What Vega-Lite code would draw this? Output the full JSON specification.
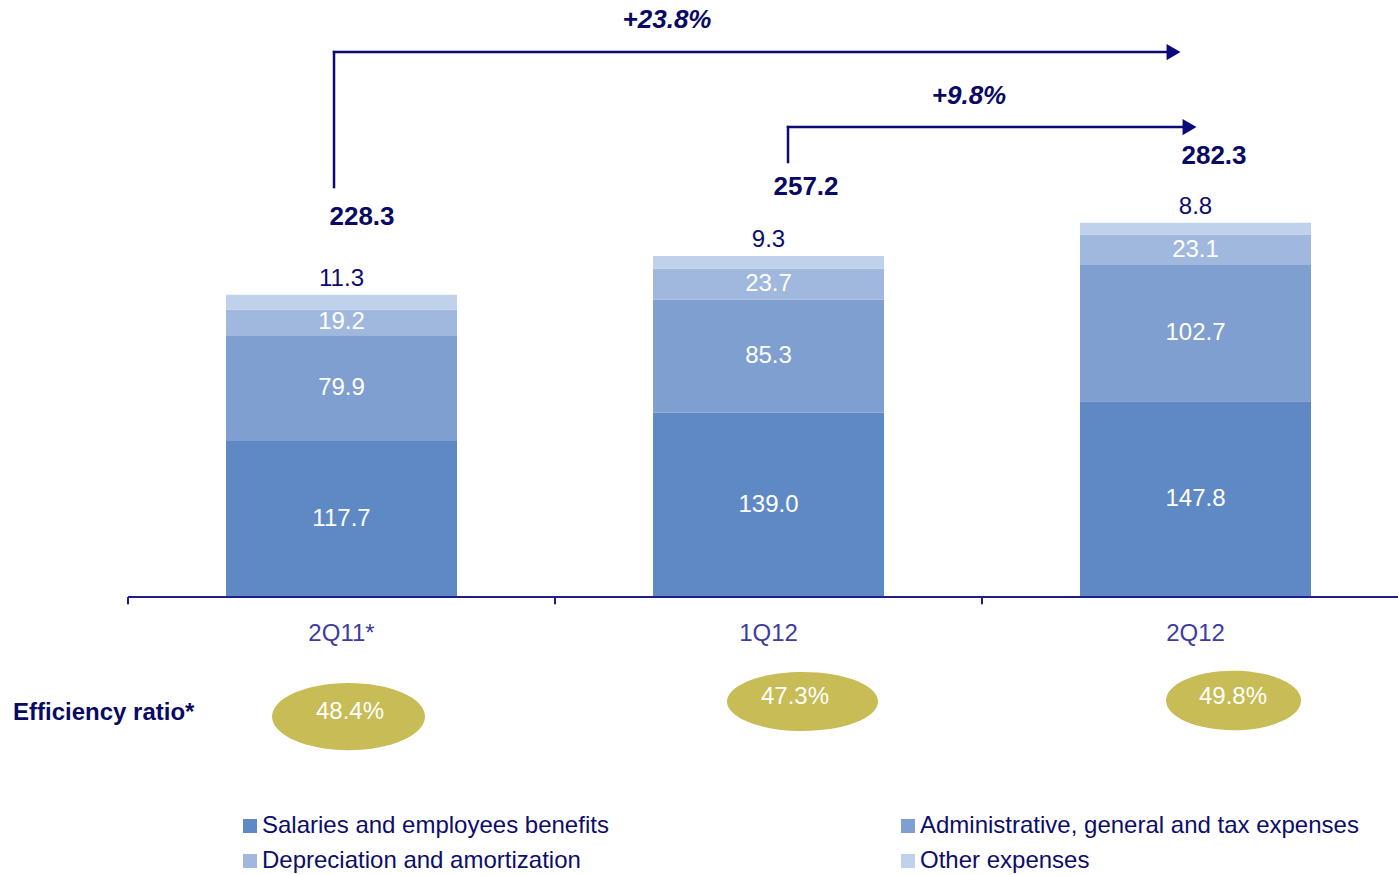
{
  "$schema": "https://vega.github.io/schema/vega-lite/v6.json",
  "width": 1398,
  "height": 875,
  "autosize": {"type": "none"},
  "padding": 0,
  "background": "white",
  "config": {
    "view": {"stroke": null},
    "axis": {"disable": true},
    "font": "Liberation Sans",
    "text": {"font": "Liberation Sans"}
  },
  "datasets": {
    "costs": [
      {"i": 0, "q": "2Q11*", "cat": "Salaries and employees benefits", "o": 1, "v": 117.7},
      {"i": 0, "q": "2Q11*", "cat": "Administrative, general and tax expenses", "o": 2, "v": 79.9},
      {"i": 0, "q": "2Q11*", "cat": "Depreciation and amortization", "o": 3, "v": 19.2},
      {"i": 0, "q": "2Q11*", "cat": "Other expenses", "o": 4, "v": 11.3},
      {"i": 1, "q": "1Q12", "cat": "Salaries and employees benefits", "o": 1, "v": 139.0},
      {"i": 1, "q": "1Q12", "cat": "Administrative, general and tax expenses", "o": 2, "v": 85.3},
      {"i": 1, "q": "1Q12", "cat": "Depreciation and amortization", "o": 3, "v": 23.7},
      {"i": 1, "q": "1Q12", "cat": "Other expenses", "o": 4, "v": 9.3},
      {"i": 2, "q": "2Q12", "cat": "Salaries and employees benefits", "o": 1, "v": 147.8},
      {"i": 2, "q": "2Q12", "cat": "Administrative, general and tax expenses", "o": 2, "v": 102.7},
      {"i": 2, "q": "2Q12", "cat": "Depreciation and amortization", "o": 3, "v": 23.1},
      {"i": 2, "q": "2Q12", "cat": "Other expenses", "o": 4, "v": 8.8}
    ],
    "quarters": [
      {"i": 0, "q": "2Q11*", "total": 228.3, "eff": "48.4%"},
      {"i": 1, "q": "1Q12", "total": 257.2, "eff": "47.3%"},
      {"i": 2, "q": "2Q12", "total": 282.3, "eff": "49.8%"}
    ],
    "growth": [
      {"from": 0, "to": 2, "label": "+23.8%"},
      {"from": 1, "to": 2, "label": "+9.8%"}
    ],
    "notes": [
      {"label": "Efficiency ratio*"}
    ]
  },
  "layer": [
    {
      "data": {"name": "costs"},
      "transform": [
        {"stack": "v", "groupby": ["i"], "sort": [{"field": "o", "order": "ascending"}], "as": ["v0", "v1"]}
      ],
      "mark": {"type": "bar", "width": 231},
      "encoding": {
        "x": {"field": "i", "type": "quantitative", "scale": {"domain": [-0.7998, 2.4742], "nice": false, "zero": false, "padding": 0}, "axis": null},
        "y": {"field": "v0", "type": "quantitative", "stack": null, "scale": {"domain": [-209.8, 450.6], "nice": false, "zero": false, "padding": 0}, "axis": null},
        "y2": {"field": "v1"},
        "color": {
          "field": "cat",
          "type": "nominal",
          "scale": {
            "domain": ["Salaries and employees benefits", "Administrative, general and tax expenses", "Depreciation and amortization", "Other expenses"],
            "range": ["#5F89C5", "#7F9FD0", "#A0B8DE", "#C0D1EC"]
          },
          "legend": {
            "title": null,
            "orient": "none",
            "legendX": 238,
            "legendY": 814,
            "direction": "horizontal",
            "columns": 2,
            "columnPadding": 287,
            "rowPadding": 11,
            "symbolType": "square",
            "symbolSize": 196,
            "symbolStrokeWidth": 0,
            "symbolOpacity": 1,
            "labelFont": "Liberation Sans",
            "labelFontSize": 24,
            "labelColor": "#0D0D6B",
            "labelLimit": 700,
            "labelOffset": 0,
            "padding": 0
          }
        }
      }
    },
    {
      "data": {"name": "costs"},
      "transform": [
        {"stack": "v", "groupby": ["i"], "sort": [{"field": "o", "order": "ascending"}], "as": ["v0", "v1"]},
        {"calculate": "(datum.v0 + datum.v1) / 2", "as": "mid"},
        {"filter": "datum.o < 4"}
      ],
      "mark": {"type": "text", "fontSize": 24, "color": "white", "baseline": "middle", "align": "center"},
      "encoding": {
        "x": {"field": "i", "type": "quantitative"},
        "y": {"field": "mid", "type": "quantitative", "stack": null},
        "text": {"field": "v", "type": "quantitative", "format": ".1f"}
      }
    },
    {
      "data": {"name": "costs"},
      "transform": [
        {"stack": "v", "groupby": ["i"], "sort": [{"field": "o", "order": "ascending"}], "as": ["v0", "v1"]},
        {"filter": "datum.o == 4"}
      ],
      "mark": {"type": "text", "fontSize": 24, "color": "#0D0D6B", "baseline": "middle", "align": "center", "dy": -16},
      "encoding": {
        "x": {"field": "i", "type": "quantitative"},
        "y": {"field": "v1", "type": "quantitative", "stack": null},
        "text": {"field": "v", "type": "quantitative", "format": ".1f"}
      }
    },
    {
      "data": {"name": "quarters"},
      "mark": {"type": "rule", "color": "#1F1F8A", "strokeWidth": 2, "xOffset": -213.5, "x2Offset": 213.5},
      "encoding": {
        "x": {"field": "i", "type": "quantitative"},
        "x2": {"field": "i"},
        "y": {"datum": 0}
      }
    },
    {
      "data": {"name": "quarters"},
      "mark": {"type": "rule", "color": "#1F1F8A", "strokeWidth": 2, "xOffset": -213.5},
      "encoding": {
        "x": {"field": "i", "type": "quantitative"},
        "y": {"datum": 0},
        "y2": {"datum": -5.5}
      }
    },
    {
      "data": {"name": "quarters"},
      "mark": {"type": "text", "fontSize": 24, "color": "#3C3CA0", "baseline": "middle", "align": "center"},
      "encoding": {
        "x": {"field": "i", "type": "quantitative"},
        "y": {"datum": -27.9},
        "text": {"field": "q", "type": "nominal"}
      }
    },
    {
      "data": {"name": "quarters"},
      "transform": [{"filter": "datum.i == 0"}],
      "layer": [
        {
          "mark": {"type": "text", "fontSize": 26, "fontWeight": "bold", "color": "#0A0A64", "baseline": "middle", "align": "center", "dx": 20.5, "dy": -77.5},
          "encoding": {
            "x": {"field": "i", "type": "quantitative"},
            "y": {"field": "total", "type": "quantitative"},
            "text": {"field": "total", "type": "quantitative", "format": ".1f"}
          }
        },
        {
          "mark": {"type": "point", "shape": "M -1 0 A 1 0.44 0 1 1 1 0 A 1 0.44 0 1 1 -1 0 Z", "size": 23409, "filled": true, "opacity": 1, "color": "#C8BC56", "strokeWidth": 0, "xOffset": 7},
          "encoding": {
            "x": {"field": "i", "type": "quantitative"},
            "y": {"datum": -90.2}
          }
        },
        {
          "mark": {"type": "text", "fontSize": 24, "color": "white", "baseline": "middle", "align": "center", "dx": 8.5},
          "encoding": {
            "x": {"field": "i", "type": "quantitative"},
            "y": {"datum": -86.8},
            "text": {"field": "eff", "type": "nominal"}
          }
        }
      ]
    },
    {
      "data": {"name": "quarters"},
      "transform": [{"filter": "datum.i == 1"}],
      "layer": [
        {
          "mark": {"type": "text", "fontSize": 26, "fontWeight": "bold", "color": "#0A0A64", "baseline": "middle", "align": "center", "dx": 37.5, "dy": -69},
          "encoding": {
            "x": {"field": "i", "type": "quantitative"},
            "y": {"field": "total", "type": "quantitative"},
            "text": {"field": "total", "type": "quantitative", "format": ".1f"}
          }
        },
        {
          "mark": {"type": "point", "shape": "M -1 0 A 1 0.39 0 1 1 1 0 A 1 0.39 0 1 1 -1 0 Z", "size": 22801, "filled": true, "opacity": 1, "color": "#C8BC56", "strokeWidth": 0, "xOffset": 34},
          "encoding": {
            "x": {"field": "i", "type": "quantitative"},
            "y": {"datum": -78.9}
          }
        },
        {
          "mark": {"type": "text", "fontSize": 24, "color": "white", "baseline": "middle", "align": "center", "dx": 26.5},
          "encoding": {
            "x": {"field": "i", "type": "quantitative"},
            "y": {"datum": -75.5},
            "text": {"field": "eff", "type": "nominal"}
          }
        }
      ]
    },
    {
      "data": {"name": "quarters"},
      "transform": [{"filter": "datum.i == 2"}],
      "layer": [
        {
          "mark": {"type": "text", "fontSize": 26, "fontWeight": "bold", "color": "#0A0A64", "baseline": "middle", "align": "center", "dx": 18.5, "dy": -67},
          "encoding": {
            "x": {"field": "i", "type": "quantitative"},
            "y": {"field": "total", "type": "quantitative"},
            "text": {"field": "total", "type": "quantitative", "format": ".1f"}
          }
        },
        {
          "mark": {"type": "point", "shape": "M -1 0 A 1 0.44 0 1 1 1 0 A 1 0.44 0 1 1 -1 0 Z", "size": 18225, "filled": true, "opacity": 1, "color": "#C8BC56", "strokeWidth": 0, "xOffset": 38},
          "encoding": {
            "x": {"field": "i", "type": "quantitative"},
            "y": {"datum": -78.1}
          }
        },
        {
          "mark": {"type": "text", "fontSize": 24, "color": "white", "baseline": "middle", "align": "center", "dx": 37.5},
          "encoding": {
            "x": {"field": "i", "type": "quantitative"},
            "y": {"datum": -75.5},
            "text": {"field": "eff", "type": "nominal"}
          }
        }
      ]
    },
    {
      "data": {"name": "notes"},
      "mark": {"type": "text", "fontSize": 24, "fontWeight": "bold", "color": "#0A0A64", "baseline": "middle", "align": "left", "dx": -115},
      "encoding": {
        "x": {"datum": -0.5},
        "y": {"datum": -87.6},
        "text": {"field": "label", "type": "nominal"}
      }
    },
    {
      "data": {"name": "growth"},
      "transform": [{"filter": "datum.from == 0"}],
      "layer": [
        {
          "mark": {"type": "rule", "color": "#0A0A78", "strokeWidth": 2.5, "strokeCap": "square", "xOffset": -7.5},
          "encoding": {
            "x": {"field": "from", "type": "quantitative"},
            "y": {"datum": 309.4},
            "y2": {"datum": 411.3}
          }
        },
        {
          "mark": {"type": "rule", "color": "#0A0A78", "strokeWidth": 2.5, "strokeCap": "square", "xOffset": -7.5, "x2Offset": -20},
          "encoding": {
            "x": {"field": "from", "type": "quantitative"},
            "x2": {"field": "to"},
            "y": {"datum": 411.3}
          }
        },
        {
          "mark": {"type": "point", "shape": "triangle-right", "size": 260, "filled": true, "opacity": 1, "color": "#0A0A78", "strokeWidth": 0, "xOffset": -22},
          "encoding": {
            "x": {"field": "to", "type": "quantitative"},
            "y": {"datum": 411.3}
          }
        },
        {
          "mark": {"type": "text", "fontSize": 26, "fontWeight": "bold", "fontStyle": "italic", "color": "#0A0A64", "baseline": "middle", "align": "center", "dx": 325.5},
          "encoding": {
            "x": {"field": "from", "type": "quantitative"},
            "y": {"datum": 435.5},
            "text": {"field": "label", "type": "nominal"}
          }
        }
      ]
    },
    {
      "data": {"name": "growth"},
      "transform": [{"filter": "datum.from == 1"}],
      "layer": [
        {
          "mark": {"type": "rule", "color": "#0A0A78", "strokeWidth": 2.5, "strokeCap": "square", "xOffset": 19.5},
          "encoding": {
            "x": {"field": "from", "type": "quantitative"},
            "y": {"datum": 328.3},
            "y2": {"datum": 354.7}
          }
        },
        {
          "mark": {"type": "rule", "color": "#0A0A78", "strokeWidth": 2.5, "strokeCap": "square", "xOffset": 19.5, "x2Offset": -10},
          "encoding": {
            "x": {"field": "from", "type": "quantitative"},
            "x2": {"field": "to"},
            "y": {"datum": 354.7}
          }
        },
        {
          "mark": {"type": "point", "shape": "triangle-right", "size": 260, "filled": true, "opacity": 1, "color": "#0A0A78", "strokeWidth": 0, "xOffset": -6},
          "encoding": {
            "x": {"field": "to", "type": "quantitative"},
            "y": {"datum": 354.7}
          }
        },
        {
          "mark": {"type": "text", "fontSize": 26, "fontWeight": "bold", "fontStyle": "italic", "color": "#0A0A64", "baseline": "middle", "align": "center", "dx": 200.5},
          "encoding": {
            "x": {"field": "from", "type": "quantitative"},
            "y": {"datum": 378.1},
            "text": {"field": "label", "type": "nominal"}
          }
        }
      ]
    }
  ]
}
